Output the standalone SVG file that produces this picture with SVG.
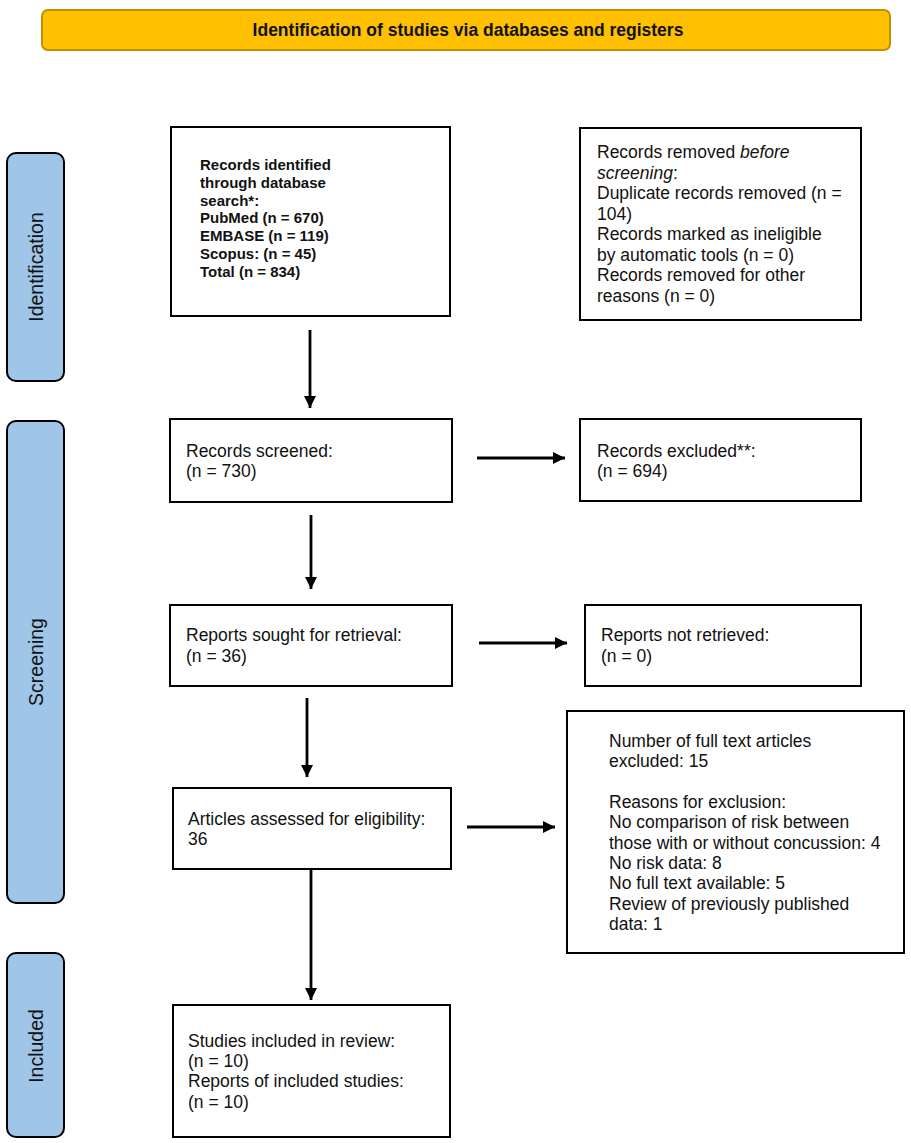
<svg xmlns="http://www.w3.org/2000/svg" width="911" height="1143" viewBox="0 0 911 1143">
<style>
.box{fill:#fff;stroke:#000;stroke-width:2}
.side{fill:#9fc5e8;stroke:#000;stroke-width:2}
.t{font-family:"Liberation Sans",Arial,sans-serif;font-size:17.5px;fill:#111}
.b{font-family:"Liberation Sans",Arial,sans-serif;font-size:15px;font-weight:bold;fill:#111}
.sl{font-family:"Liberation Sans",Arial,sans-serif;font-size:19.5px;fill:#111;text-anchor:middle}
.c{stroke:#000;stroke-width:2.8;fill:none;marker-end:url(#ah)}
</style>
<defs>
<marker id="ah" markerUnits="userSpaceOnUse" markerWidth="14" markerHeight="12" refX="12" refY="6" orient="auto">
<path d="M0,0 L12,6 L0,12 Z" fill="#000"/>
</marker>
</defs>
<rect width="911" height="1143" fill="#fff"/>
<g id="header">
<rect x="42" y="10" width="848" height="40" rx="6" fill="#ffc000" stroke="#bf9000" stroke-width="2"/>
<text x="468" y="36" font-family="'Liberation Sans',Arial,sans-serif" font-size="17.5" font-weight="bold" text-anchor="middle" fill="#111">Identification of studies via databases and registers</text>
</g>
<g id="side-identification">
<rect class="side" x="7" y="153" width="57" height="228" rx="9"/>
<text class="sl" transform="translate(43,267) rotate(-90)">Identification</text>
</g>
<g id="side-screening">
<rect class="side" x="7" y="421" width="57" height="482" rx="9"/>
<text class="sl" transform="translate(43,662) rotate(-90)">Screening</text>
</g>
<g id="side-included">
<rect class="side" x="7" y="953" width="57" height="184" rx="9"/>
<text class="sl" transform="translate(43,1046) rotate(-90)">Included</text>
</g>
<g id="n-identified">
<rect class="box" x="171" y="127" width="279" height="189"/>
<text class="b"><tspan x="200" y="170">Records identified</tspan><tspan x="200" y="188">through database</tspan><tspan x="200" y="206">search*:</tspan><tspan x="200" y="223">PubMed (n = 670)</tspan><tspan x="200" y="241">EMBASE (n = 119)</tspan><tspan x="200" y="259">Scopus: (n = 45)</tspan><tspan x="200" y="277">Total (n = 834)</tspan></text>
</g>
<g id="n-removed">
<rect class="box" x="580" y="128" width="281" height="192"/>
<text class="t"><tspan x="597" y="158">Records removed <tspan font-style="italic">before</tspan></tspan><tspan x="597" y="179"><tspan font-style="italic">screening</tspan>:</tspan><tspan x="597" y="199">Duplicate records removed (n =</tspan><tspan x="597" y="220">104)</tspan><tspan x="597" y="240">Records marked as ineligible</tspan><tspan x="597" y="261">by automatic tools (n = 0)</tspan><tspan x="597" y="281">Records removed for other</tspan><tspan x="597" y="302">reasons (n = 0)</tspan></text>
</g>
<g id="n-screened">
<rect class="box" x="170" y="419" width="282" height="83"/>
<text class="t"><tspan x="186" y="457">Records screened:</tspan><tspan x="186" y="477">(n = 730)</tspan></text>
</g>
<g id="n-excluded">
<rect class="box" x="580" y="419" width="281" height="82"/>
<text class="t"><tspan x="597" y="457">Records excluded**:</tspan><tspan x="597" y="477">(n = 694)</tspan></text>
</g>
<g id="n-sought">
<rect class="box" x="170" y="605" width="282" height="81"/>
<text class="t"><tspan x="186" y="641">Reports sought for retrieval:</tspan><tspan x="186" y="662">(n = 36)</tspan></text>
</g>
<g id="n-notretrieved">
<rect class="box" x="585" y="605" width="276" height="81"/>
<text class="t"><tspan x="601" y="641">Reports not retrieved:</tspan><tspan x="601" y="662">(n = 0)</tspan></text>
</g>
<g id="n-assessed">
<rect class="box" x="173" y="788" width="278" height="81"/>
<text class="t"><tspan x="188" y="825">Articles assessed for eligibility:</tspan><tspan x="188" y="845">36</tspan></text>
</g>
<g id="n-fulltext-excluded">
<rect class="box" x="567" y="711" width="337" height="242"/>
<text class="t"><tspan x="609" y="747">Number of full text articles</tspan><tspan x="609" y="767">excluded: 15</tspan><tspan x="609" y="808">Reasons for exclusion:</tspan><tspan x="609" y="828">No comparison of risk between</tspan><tspan x="609" y="849">those with or without concussion: 4</tspan><tspan x="609" y="869">No risk data: 8</tspan><tspan x="609" y="889">No full text available: 5</tspan><tspan x="609" y="910">Review of previously published</tspan><tspan x="609" y="930">data: 1</tspan></text>
</g>
<g id="n-included">
<rect class="box" x="173" y="1005" width="277" height="132"/>
<text class="t"><tspan x="188" y="1047">Studies included in review:</tspan><tspan x="188" y="1067">(n = 10)</tspan><tspan x="188" y="1087">Reports of included studies:</tspan><tspan x="188" y="1108">(n = 10)</tspan></text>
</g>
<g id="connectors">
<line class="c" x1="310" y1="330" x2="310" y2="408"/>
<line class="c" x1="477" y1="458" x2="565" y2="458"/>
<line class="c" x1="311" y1="515" x2="311" y2="589"/>
<line class="c" x1="479" y1="643" x2="567" y2="643"/>
<line class="c" x1="307" y1="698" x2="307" y2="777"/>
<line class="c" x1="467" y1="827" x2="555" y2="827"/>
<line class="c" x1="311" y1="869" x2="311" y2="1000"/>
</g>
</svg>
